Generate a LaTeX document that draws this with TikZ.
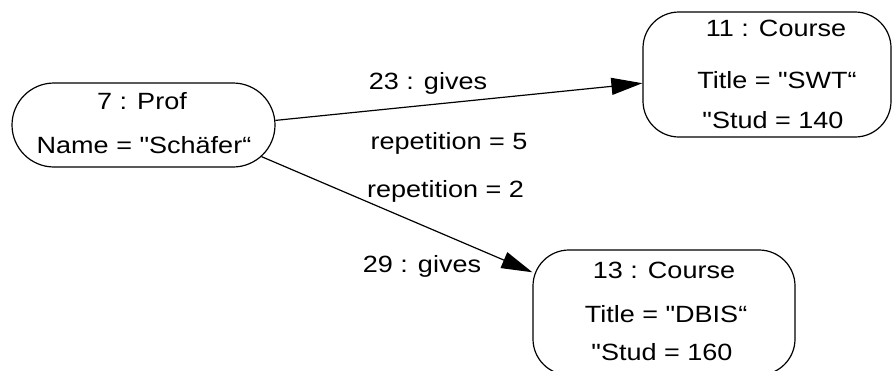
\documentclass[tikz,border=0pt]{standalone}
\usepackage{fontspec}
\setmainfont{Liberation Sans}[FakeStretch=1.15,Ligatures=TeXOff]
\usetikzlibrary{shapes.misc,arrows.meta}

\begin{document}
\begin{tikzpicture}[x=1pt,y=-1pt,line width=1.2pt,
    font=\fontsize{23.5}{28}\selectfont,
    obj/.style={draw,rounded corners=36pt,minimum width=#1,minimum height=125pt,inner sep=0pt},
    gives/.style={-{Triangle[length=31pt,width=17pt]}},
    txt/.style={anchor=base,inner sep=0pt}]
      \useasboundingbox (0,0) rectangle (893,370);
      % objects
      \node[draw,rounded rectangle,minimum width=263pt,minimum height=84pt,inner sep=0pt] (prof) at (143.5,125) {};
      \node[obj=248pt] (swt) at (767,74.5) {};
      \node[obj=262pt] (dbis) at (664,312.5) {};
      \foreach \n/\x/\y/\t in {%
        pa/142/109/{7 : Prof},
        pb/144/153/{Name = "Schäfer“},
        sa/776/36/{11 : Course},
        sb/777/88/{Title = "SWT“},
        sc/773/128/{"Stud = 140},
        da/664/278/{13 : Course},
        db/666/322/{Title = "DBIS“},
        dc/662/360/{"Stud = 160}}{%
          \node[txt] (\n) at (\x,\y) {\t};
        }
      % links
      \draw[gives] (prof.2) -- (swt.184);
      \draw[gives] (prof.-15) -- (dbis.163);
      \node[txt] (ga) at (428,89) {23 : gives};
      \node[txt] (ra) at (449,149) {repetition = 5};
      \node[txt] (rb) at (445.5,197) {repetition = 2};
      \node[txt] (gb) at (422,272) {29 : gives};
    \end{tikzpicture}
\end{document}
